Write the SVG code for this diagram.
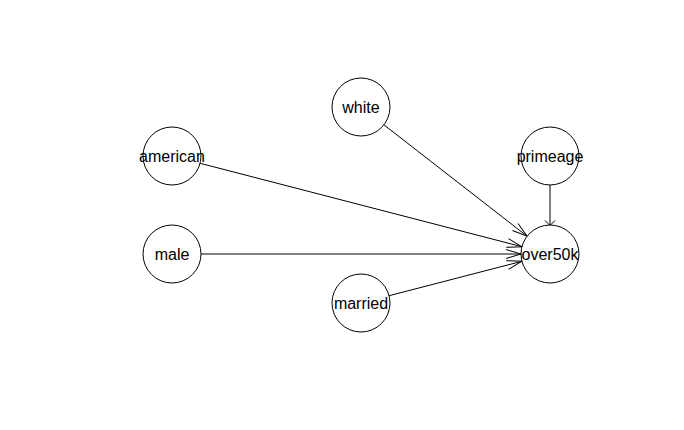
<svg xmlns="http://www.w3.org/2000/svg" width="684" height="430" viewBox="0 0 684 430">
<style>
.node circle{fill:#fff;stroke:#000;stroke-width:1}
.node text{font-family:"Liberation Sans",Arial,sans-serif;font-size:16px;fill:#000;text-anchor:middle}
.edges line{stroke:#000;stroke-width:1;marker-end:url(#arr)}
.edges line.short{marker-end:url(#arr2)}
</style>
<defs>
<marker id="arr" viewBox="-16 -8 18 16" markerWidth="18" markerHeight="16" refX="0" refY="0" orient="auto" markerUnits="userSpaceOnUse" overflow="visible">
<path d="M-15,-4.5 L0,0 L-15,4.5" fill="none" stroke="#000" stroke-width="1"/>
</marker>
<marker id="arr2" viewBox="-8 -8 10 16" markerWidth="10" markerHeight="16" refX="0" refY="0" orient="auto" markerUnits="userSpaceOnUse" overflow="visible">
<path d="M-5,-5 L0,0 L-5,5" fill="none" stroke="#000" stroke-width="1"/>
</marker>
</defs>
<rect width="684" height="430" fill="#fff"/>
<g class="edges">
<line x1="200.1" y1="163.3" x2="521.9" y2="246.7"/>
<line x1="201" y1="254" x2="521" y2="254"/>
<line x1="383.9" y1="124.8" x2="527.1" y2="236.2"/>
<line x1="389.1" y1="295.7" x2="521.9" y2="261.3"/>
<line class="short" x1="550" y1="185" x2="550" y2="225.5"/>
</g>
<g id="white" class="node"><circle cx="361" cy="107" r="29"/><text x="361" y="113">white</text></g>
<g id="american" class="node"><circle cx="172" cy="156" r="29"/><text x="172" y="162">american</text></g>
<g id="primeage" class="node"><circle cx="550" cy="156" r="29"/><text x="550" y="162">primeage</text></g>
<g id="male" class="node"><circle cx="172" cy="254" r="29"/><text x="172" y="260">male</text></g>
<g id="over50k" class="node"><circle cx="550" cy="254" r="29"/><text x="550" y="260">over50k</text></g>
<g id="married" class="node"><circle cx="361" cy="303" r="29"/><text x="361" y="309">married</text></g>
</svg>
